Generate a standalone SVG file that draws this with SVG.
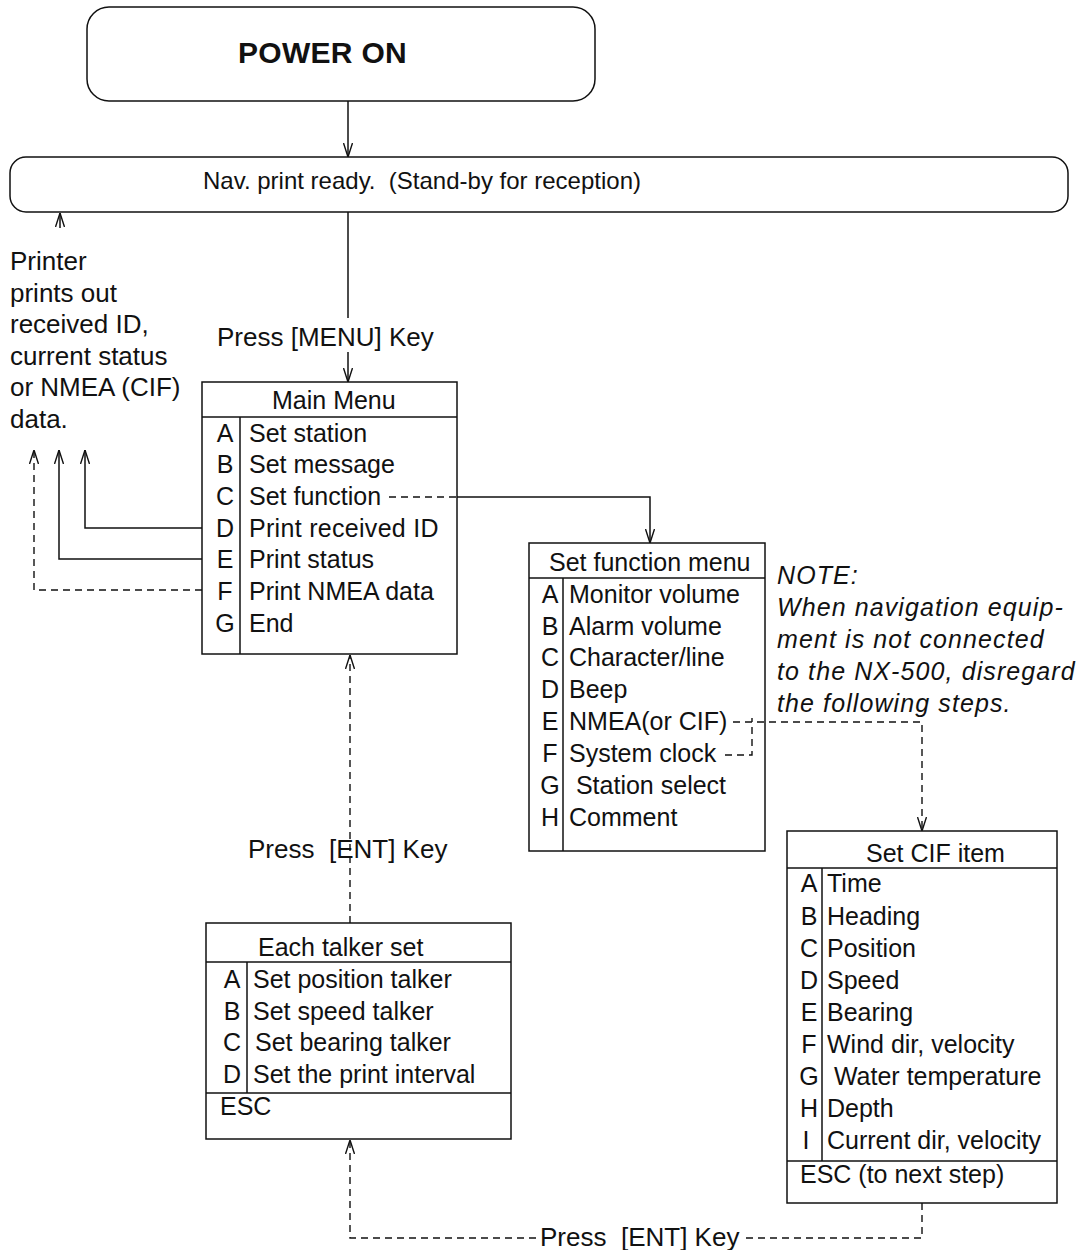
<svg xmlns="http://www.w3.org/2000/svg" width="1091" height="1250" viewBox="0 0 1091 1250">
<defs>
<style>
text{font-family:"Liberation Sans",Arial,Helvetica,sans-serif;font-size:25px;fill:#111;white-space:pre}
.b{font-weight:bold;font-size:30px;letter-spacing:0.3px}
.it{font-style:italic;letter-spacing:1.1px}
.lg{font-size:26px}
.box{fill:#fff;stroke:#111;stroke-width:1.5}
.ln{fill:none;stroke:#111;stroke-width:1.5}
.dl{fill:none;stroke:#111;stroke-width:1.4;stroke-dasharray:7 5}
.l{text-anchor:middle}
</style>
<marker id="ah" viewBox="0 0 14 10" refX="14" refY="5" markerWidth="14" markerHeight="10" markerUnits="userSpaceOnUse" orient="auto">
<path d="M0,0.5 L14,5 L0,9.5" fill="none" stroke="#111" stroke-width="1.4"/>
</marker>
</defs>

<g id="power-on">
<rect class="box" x="87" y="7" width="508" height="94" rx="22"/>
<text class="b" x="238" y="63">POWER ON</text>
</g>

<g id="nav-ready">
<rect class="box" x="10" y="157" width="1058" height="55" rx="16"/>
<text x="203" y="189" style="font-size:24px" xml:space="preserve">Nav. print ready.  (Stand-by for reception)</text>
</g>

<g id="printer-note">
<text class="lg" x="10" y="270">Printer</text>
<text class="lg" x="10" y="302">prints out</text>
<text class="lg" x="10" y="333">received ID,</text>
<text class="lg" x="10" y="365">current status</text>
<text class="lg" x="10" y="396">or NMEA (CIF)</text>
<text class="lg" x="10" y="428">data.</text>
</g>

<g id="main-menu">
<rect class="box" x="202" y="382" width="255" height="272"/>
<line class="ln" x1="202" y1="417" x2="457" y2="417"/>
<line class="ln" x1="240" y1="417" x2="240" y2="654"/>
<text x="272" y="409">Main Menu</text>
<g class="l">
<text x="225" y="442">A</text><text x="225" y="473">B</text><text x="225" y="505">C</text><text x="225" y="537">D</text><text x="225" y="568">E</text><text x="225" y="600">F</text><text x="225" y="632">G</text>
</g>
<text x="249" y="442">Set station</text>
<text x="249" y="473">Set message</text>
<text x="249" y="505">Set function</text>
<text x="249" y="537" style="letter-spacing:0.3px">Print received ID</text>
<text x="249" y="568">Print status</text>
<text x="249" y="600">Print NMEA data</text>
<text x="249" y="632">End</text>
</g>

<g id="set-function-menu">
<rect class="box" x="529" y="543" width="236" height="308"/>
<line class="ln" x1="529" y1="578" x2="765" y2="578"/>
<line class="ln" x1="563" y1="578" x2="563" y2="851"/>
<text x="549" y="571">Set function menu</text>
<g class="l">
<text x="550" y="603">A</text><text x="550" y="635">B</text><text x="550" y="666">C</text><text x="550" y="698">D</text><text x="550" y="730">E</text><text x="550" y="762">F</text><text x="550" y="794">G</text><text x="550" y="826">H</text>
</g>
<text x="569" y="603">Monitor volume</text>
<text x="569" y="635">Alarm volume</text>
<text x="569" y="666">Character/line</text>
<text x="569" y="698">Beep</text>
<text x="569" y="730">NMEA(or CIF)</text>
<text x="569" y="762">System clock</text>
<text x="569" y="794" xml:space="preserve"> Station select</text>
<text x="569" y="826">Comment</text>
</g>

<g id="note">
<text class="it" x="777" y="584">NOTE:</text>
<text class="it" x="777" y="616">When navigation equip-</text>
<text class="it" x="777" y="648">ment is not connected</text>
<text class="it" x="777" y="680">to the NX-500, disregard</text>
<text class="it" x="777" y="712">the following steps.</text>
</g>

<g id="set-cif-item">
<rect class="box" x="787" y="831" width="270" height="372"/>
<line class="ln" x1="787" y1="868" x2="1057" y2="868"/>
<line class="ln" x1="822" y1="868" x2="822" y2="1161"/>
<line class="ln" x1="787" y1="1161" x2="1057" y2="1161"/>
<text x="866" y="862">Set CIF item</text>
<g class="l">
<text x="809" y="892">A</text><text x="809" y="925">B</text><text x="809" y="957">C</text><text x="809" y="989">D</text><text x="809" y="1021">E</text><text x="809" y="1053">F</text><text x="809" y="1085">G</text><text x="809" y="1117">H</text><text x="806" y="1149">I</text>
</g>
<text x="827" y="892">Time</text>
<text x="827" y="925">Heading</text>
<text x="827" y="957">Position</text>
<text x="827" y="989">Speed</text>
<text x="827" y="1021">Bearing</text>
<text x="827" y="1053">Wind dir, velocity</text>
<text x="827" y="1085" xml:space="preserve"> Water temperature</text>
<text x="827" y="1117">Depth</text>
<text x="827" y="1149">Current dir, velocity</text>
<text x="800" y="1183">ESC (to next step)</text>
</g>

<g id="each-talker-set">
<rect class="box" x="206" y="923" width="305" height="216"/>
<line class="ln" x1="206" y1="962" x2="511" y2="962"/>
<line class="ln" x1="247" y1="962" x2="247" y2="1093"/>
<line class="ln" x1="206" y1="1093" x2="511" y2="1093"/>
<text x="258" y="956">Each talker set</text>
<g class="l">
<text x="232" y="988">A</text><text x="232" y="1020">B</text><text x="232" y="1051">C</text><text x="232" y="1083">D</text>
</g>
<text x="253" y="988">Set position talker</text>
<text x="253" y="1020">Set speed talker</text>
<text x="255" y="1051">Set bearing talker</text>
<text x="253" y="1083">Set the print interval</text>
<text x="220" y="1115">ESC</text>
</g>

<g id="connectors">
<line class="ln" x1="348" y1="101" x2="348" y2="157" marker-end="url(#ah)"/>
<line class="ln" x1="348" y1="212" x2="348" y2="318"/>
<line class="ln" x1="348" y1="352" x2="348" y2="382" marker-end="url(#ah)"/>
<text class="lg" x="217" y="346">Press [MENU] Key</text>
<line class="ln" x1="60" y1="228" x2="60" y2="213" marker-end="url(#ah)"/>
<polyline class="ln" points="202,528 85,528 85,450" marker-end="url(#ah)"/>
<polyline class="ln" points="202,559 59,559 59,450" marker-end="url(#ah)"/>
<polyline class="dl" points="202,590 34,590 34,450" marker-end="url(#ah)"/>
<line class="dl" x1="389" y1="497" x2="457" y2="497"/>
<polyline class="ln" points="457,497 650,497 650,543" marker-end="url(#ah)"/>
<polyline class="dl" points="733,722 922,722 922,831" marker-end="url(#ah)"/>
<polyline class="dl" points="725,755 752,755 752,718"/>
<line class="dl" x1="350" y1="923" x2="350" y2="655" marker-end="url(#ah)"/>
<text class="lg" x="248" y="858" xml:space="preserve">Press  [ENT] Key</text>
<polyline class="dl" points="922,1203 922,1238 744,1238"/>
<polyline class="dl" points="536,1238 350,1238 350,1140" marker-end="url(#ah)"/>
<text class="lg" x="540" y="1246" xml:space="preserve">Press  [ENT] Key</text>
</g>
</svg>
